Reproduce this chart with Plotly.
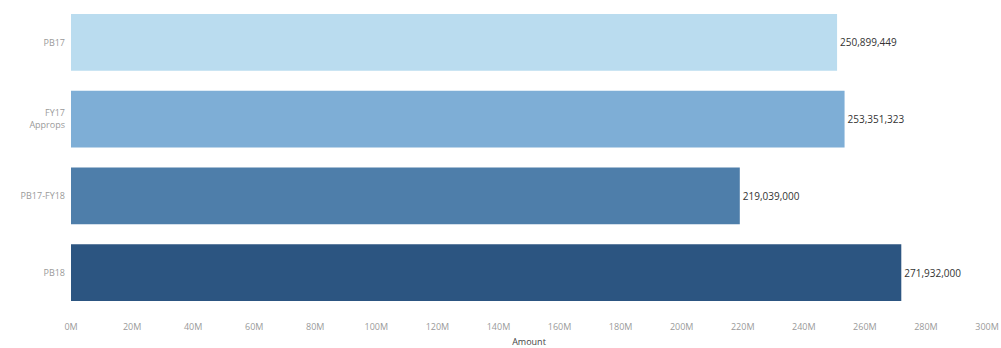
import plotly.graph_objects as go

categories = ["PB17", "FY17<br>Approps", "PB17-FY18", "PB18"]
amounts = [250899449, 253351323, 219039000, 271932000]
bar_colors = ["#badcef", "#7eaed6", "#4e7eaa", "#2c5581"]
tick_vals = [i * 20_000_000 for i in range(16)]
tick_text = [f"{i * 20}M" for i in range(16)]

fig = go.Figure(
    go.Bar(
        y=categories,
        x=amounts,
        orientation="h",
        marker=dict(color=bar_colors, line=dict(width=0)),
        width=0.74,
        text=[f"{v:,}" for v in amounts],
        textposition="outside",
        textfont=dict(family="Open Sans, Arial, sans-serif", size=10, color="#333333"),
        cliponaxis=False,
    )
)

fig.update_layout(
    width=1001,
    height=348,
    margin=dict(l=71, r=14, t=4, b=37, autoexpand=False),
    paper_bgcolor="white",
    plot_bgcolor="white",
    showlegend=False,
    font=dict(family="Open Sans, Arial, sans-serif", color="#999999", size=9),
    bargap=0.26,
)
fig.update_yaxes(
    autorange="reversed",
    automargin=False,
    showgrid=False,
    zeroline=False,
    showline=False,
    ticks="",
    ticklabelstandoff=5,
    tickfont=dict(size=9, color="#9a9a9a"),
)
fig.update_xaxes(
    range=[0, 300_000_000],
    automargin=False,
    tickvals=tick_vals,
    ticktext=tick_text,
    showgrid=False,
    zeroline=False,
    showline=False,
    ticks="",
    ticklabelstandoff=9,
    tickfont=dict(size=9, color="#9a9a9a"),
    title=dict(text="Amount", font=dict(size=9, color="#444444"), standoff=10),
)

fig.write_html(
    "out.html",
    config={"displayModeBar": False},
    post_script="document.body.style.margin='0';document.body.style.overflow='hidden';",
)
